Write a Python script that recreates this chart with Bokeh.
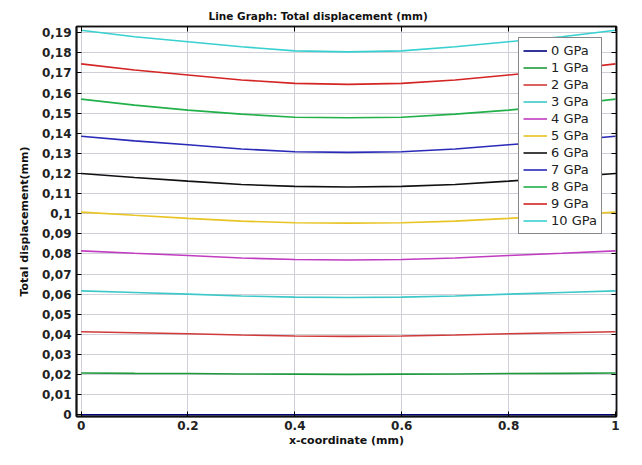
from bokeh.plotting import figure
from bokeh.models import (Range1d, FixedTicker, LinearAxis, Legend, LegendItem, Title,
                          CustomJSTickFormatter)
from bokeh.embed import file_html
from bokeh.resources import INLINE

x_vals = [0.0, 0.1, 0.2, 0.3, 0.4, 0.5, 0.6, 0.7, 0.8, 0.9, 1.0]
series_names = ["0 GPa", "1 GPa", "2 GPa", "3 GPa", "4 GPa", "5 GPa",
                "6 GPa", "7 GPa", "8 GPa", "9 GPa", "10 GPa"]
gpa0 = [0.0, 0.0, 0.0, 0.0, 0.0, 0.0, 0.0, 0.0, 0.0, 0.0, 0.0]
gpa1 = [0.0208, 0.0206, 0.0205, 0.0203, 0.0202, 0.0201, 0.0202, 0.0203, 0.0205, 0.0206, 0.0208]
gpa2 = [0.0413, 0.0408, 0.0403, 0.0397, 0.0392, 0.0390, 0.0392, 0.0397, 0.0403, 0.0408, 0.0413]
gpa3 = [0.0616, 0.0608, 0.0600, 0.0591, 0.0585, 0.0583, 0.0585, 0.0591, 0.0600, 0.0608, 0.0616]
gpa4 = [0.0815, 0.0803, 0.0792, 0.0780, 0.0772, 0.0770, 0.0772, 0.0780, 0.0792, 0.0803, 0.0815]
gpa5 = [0.1008, 0.0992, 0.0977, 0.0963, 0.0955, 0.0953, 0.0955, 0.0963, 0.0977, 0.0992, 0.1008]
gpa6 = [0.1200, 0.1180, 0.1162, 0.1145, 0.1136, 0.1133, 0.1136, 0.1145, 0.1162, 0.1180, 0.1200]
gpa7 = [0.1385, 0.1362, 0.1343, 0.1322, 0.1308, 0.1305, 0.1308, 0.1322, 0.1343, 0.1362, 0.1385]
gpa8 = [0.1570, 0.1540, 0.1515, 0.1495, 0.1480, 0.1477, 0.1480, 0.1495, 0.1515, 0.1540, 0.1570]
gpa9 = [0.1745, 0.1715, 0.1690, 0.1665, 0.1648, 0.1643, 0.1648, 0.1665, 0.1690, 0.1715, 0.1745]
gpa10 = [0.1912, 0.1880, 0.1855, 0.1830, 0.1810, 0.1805, 0.1810, 0.1830, 0.1855, 0.1880, 0.1912]
all_series = [gpa0, gpa1, gpa2, gpa3, gpa4, gpa5, gpa6, gpa7, gpa8, gpa9, gpa10]
colors = ["#000080", "#1e9a3c", "#d03a3a", "#3cc8c8", "#c03cc0", "#e8c424",
          "#111111", "#2a2ab8", "#22b04a", "#d42424", "#38d0d0"]

y_ticks = [0.0, 0.01, 0.02, 0.03, 0.04, 0.05, 0.06, 0.07, 0.08, 0.09, 0.1,
           0.11, 0.12, 0.13, 0.14, 0.15, 0.16, 0.17, 0.18, 0.19]
y_labels = ["0", "0,01", "0,02", "0,03", "0,04", "0,05", "0,06", "0,07", "0,08", "0,09",
            "0,1", "0,11", "0,12", "0,13", "0,14", "0,15", "0,16", "0,17", "0,18", "0,19"]
x_ticks = [0, 0.2, 0.4, 0.6, 0.8, 1]
x_labels = ["0", "0.2", "0.4", "0.6", "0.8", "1"]
title_text = "Line Graph: Total displacement (mm)"

FONT = "DejaVu Sans"

p = figure(width=626, height=449, output_backend="svg", toolbar_location=None,
           x_range=Range1d(-0.0086, 1.0019), y_range=Range1d(-0.00085, 0.1931),
           min_border_left=76, min_border_right=10, min_border_top=26, min_border_bottom=33)
p.title = Title(text=title_text, align="left", offset=132, standoff=9,
                text_font=FONT, text_font_size="10.5px", text_font_style="bold",
                text_color="#111111")
p.outline_line_color = "#111111"
p.outline_line_width = 1.5

for ys, c in zip(all_series, colors):
    p.line(x_vals, ys, line_color=c, line_width=1.6)

renderers = p.renderers[:]

p.xaxis.ticker = FixedTicker(ticks=x_ticks)
p.xaxis.major_label_overrides = {t: l for t, l in zip(x_ticks, x_labels)}
p.yaxis.ticker = FixedTicker(ticks=y_ticks)
p.yaxis.major_label_overrides = {t: l for t, l in zip(y_ticks, y_labels)}
for ax in (p.xaxis[0], p.yaxis[0]):
    ax.major_tick_in = 5
    ax.major_tick_out = 0
    ax.minor_tick_in = 0
    ax.minor_tick_out = 0
    ax.axis_line_width = 2
    ax.axis_line_color = "#111111"
    ax.major_label_text_font = FONT
    ax.major_label_text_font_size = "12px"
    ax.major_label_text_color = "#222222"
    ax.major_label_text_font_style = "bold"
    ax.axis_label_text_font = FONT
    ax.axis_label_text_font_size = "11px"
    ax.axis_label_text_font_style = "bold"
    ax.axis_label_text_color = "#111111"
p.xaxis.axis_label = "x-coordinate (mm)"
p.xaxis.axis_label_standoff = 1
p.xaxis.major_label_standoff = 4
p.yaxis.axis_label = "Total displacement(mm)"
p.yaxis.axis_label_standoff = 8
p.yaxis.major_label_standoff = 5

blank = CustomJSTickFormatter(code="return '';")
rax = LinearAxis(ticker=FixedTicker(ticks=y_ticks), formatter=blank, major_label_standoff=0,
                 major_tick_in=5, major_tick_out=0, minor_tick_in=0, minor_tick_out=0,
                 axis_line_width=1.5, axis_line_color="#111111")
p.add_layout(rax, "right")
tax = LinearAxis(ticker=FixedTicker(ticks=x_ticks), formatter=blank, major_label_standoff=0,
                 major_tick_in=5, major_tick_out=0, minor_tick_in=0, minor_tick_out=0,
                 axis_line_width=1.5, axis_line_color="#111111")
p.add_layout(tax, "above")

p.xgrid.ticker = FixedTicker(ticks=x_ticks)
p.ygrid.ticker = FixedTicker(ticks=y_ticks)
p.xgrid.grid_line_color = "#d0d0d8"
p.ygrid.grid_line_color = "#d0d0d8"

legend = Legend(items=[LegendItem(label=n, renderers=[r]) for n, r in zip(series_names, renderers)],
                location=(442, 182), border_line_color="#111111", border_line_width=1.5,
                background_fill_alpha=1, label_text_font=FONT, label_text_font_size="13px",
                label_text_color="#222222", glyph_width=24, glyph_height=17, label_height=17,
                spacing=0, padding=4, margin=0, label_standoff=4)
p.add_layout(legend, "center")

open("out.html", "w").write(file_html(p, INLINE))
